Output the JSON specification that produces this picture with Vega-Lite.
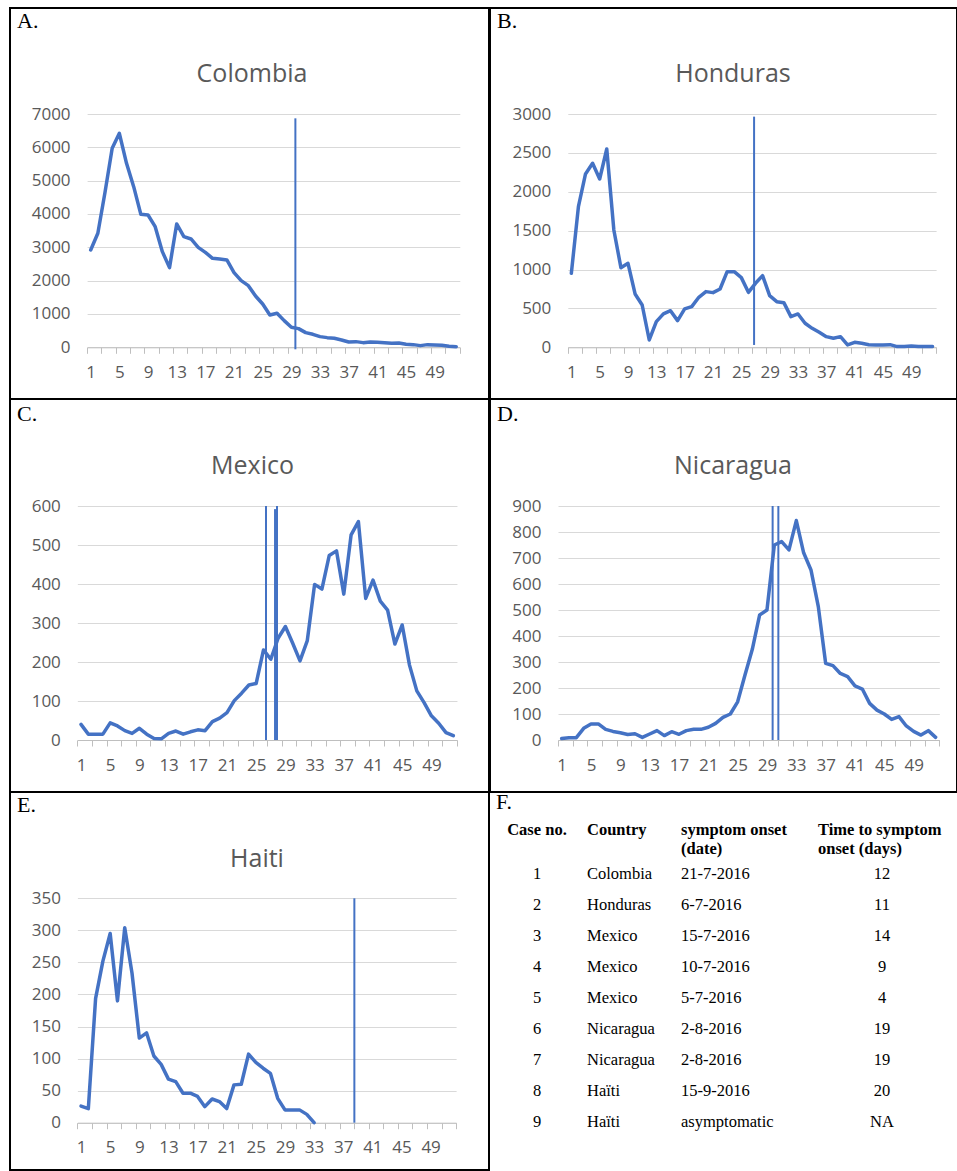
{
"$schema": "https://vega.github.io/schema/vega-lite/v6.json",
"padding": {"left": 9, "top": 7, "right": 0, "bottom": 0},
"background": "white",
"columns": 2,
"spacing": -2,
"bounds": "full",
"align": {"row": "none", "column": "each"},
"config": {"view": {"stroke": null}},
"datasets": {
"cases": [
{"country":"Colombia","week":1,"cases":2920},{"country":"Colombia","week":2,"cases":3420},{"country":"Colombia","week":3,"cases":4650},{"country":"Colombia","week":4,"cases":5970},{"country":"Colombia","week":5,"cases":6420},{"country":"Colombia","week":6,"cases":5520},{"country":"Colombia","week":7,"cases":4820},{"country":"Colombia","week":8,"cases":3990},{"country":"Colombia","week":9,"cases":3970},{"country":"Colombia","week":10,"cases":3620},{"country":"Colombia","week":11,"cases":2870},{"country":"Colombia","week":12,"cases":2390},{"country":"Colombia","week":13,"cases":3700},{"country":"Colombia","week":14,"cases":3320},{"country":"Colombia","week":15,"cases":3250},{"country":"Colombia","week":16,"cases":3000},{"country":"Colombia","week":17,"cases":2850},{"country":"Colombia","week":18,"cases":2670},{"country":"Colombia","week":19,"cases":2650},{"country":"Colombia","week":20,"cases":2620},{"country":"Colombia","week":21,"cases":2240},{"country":"Colombia","week":22,"cases":2000},{"country":"Colombia","week":23,"cases":1850},{"country":"Colombia","week":24,"cases":1540},{"country":"Colombia","week":25,"cases":1300},{"country":"Colombia","week":26,"cases":970},{"country":"Colombia","week":27,"cases":1020},{"country":"Colombia","week":28,"cases":800},{"country":"Colombia","week":29,"cases":600},{"country":"Colombia","week":30,"cases":560},{"country":"Colombia","week":31,"cases":440},{"country":"Colombia","week":32,"cases":390},{"country":"Colombia","week":33,"cases":320},{"country":"Colombia","week":34,"cases":290},{"country":"Colombia","week":35,"cases":270},{"country":"Colombia","week":36,"cases":220},{"country":"Colombia","week":37,"cases":160},{"country":"Colombia","week":38,"cases":170},{"country":"Colombia","week":39,"cases":140},{"country":"Colombia","week":40,"cases":160},{"country":"Colombia","week":41,"cases":150},{"country":"Colombia","week":42,"cases":140},{"country":"Colombia","week":43,"cases":120},{"country":"Colombia","week":44,"cases":130},{"country":"Colombia","week":45,"cases":90},{"country":"Colombia","week":46,"cases":80},{"country":"Colombia","week":47,"cases":50},{"country":"Colombia","week":48,"cases":80},{"country":"Colombia","week":49,"cases":70},{"country":"Colombia","week":50,"cases":60},{"country":"Colombia","week":51,"cases":30},{"country":"Colombia","week":52,"cases":20},
{"country":"Honduras","week":1,"cases":951},{"country":"Honduras","week":2,"cases":1809},{"country":"Honduras","week":3,"cases":2229},{"country":"Honduras","week":4,"cases":2366},{"country":"Honduras","week":5,"cases":2164},{"country":"Honduras","week":6,"cases":2550},{"country":"Honduras","week":7,"cases":1509},{"country":"Honduras","week":8,"cases":1024},{"country":"Honduras","week":9,"cases":1080},{"country":"Honduras","week":10,"cases":686},{"country":"Honduras","week":11,"cases":544},{"country":"Honduras","week":12,"cases":94},{"country":"Honduras","week":13,"cases":330},{"country":"Honduras","week":14,"cases":429},{"country":"Honduras","week":15,"cases":471},{"country":"Honduras","week":16,"cases":343},{"country":"Honduras","week":17,"cases":493},{"country":"Honduras","week":18,"cases":523},{"country":"Honduras","week":19,"cases":643},{"country":"Honduras","week":20,"cases":716},{"country":"Honduras","week":21,"cases":703},{"country":"Honduras","week":22,"cases":750},{"country":"Honduras","week":23,"cases":973},{"country":"Honduras","week":24,"cases":973},{"country":"Honduras","week":25,"cases":896},{"country":"Honduras","week":26,"cases":707},{"country":"Honduras","week":27,"cases":823},{"country":"Honduras","week":28,"cases":921},{"country":"Honduras","week":29,"cases":664},{"country":"Honduras","week":30,"cases":587},{"country":"Honduras","week":31,"cases":574},{"country":"Honduras","week":32,"cases":394},{"country":"Honduras","week":33,"cases":429},{"country":"Honduras","week":34,"cases":309},{"country":"Honduras","week":35,"cases":244},{"country":"Honduras","week":36,"cases":193},{"country":"Honduras","week":37,"cases":137},{"country":"Honduras","week":38,"cases":116},{"country":"Honduras","week":39,"cases":137},{"country":"Honduras","week":40,"cases":30},{"country":"Honduras","week":41,"cases":64},{"country":"Honduras","week":42,"cases":51},{"country":"Honduras","week":43,"cases":34},{"country":"Honduras","week":44,"cases":30},{"country":"Honduras","week":45,"cases":30},{"country":"Honduras","week":46,"cases":34},{"country":"Honduras","week":47,"cases":9},{"country":"Honduras","week":48,"cases":9},{"country":"Honduras","week":49,"cases":17},{"country":"Honduras","week":50,"cases":9},{"country":"Honduras","week":51,"cases":9},{"country":"Honduras","week":52,"cases":9},
{"country":"Mexico","week":1,"cases":40},{"country":"Mexico","week":2,"cases":15},{"country":"Mexico","week":3,"cases":15},{"country":"Mexico","week":4,"cases":15},{"country":"Mexico","week":5,"cases":44},{"country":"Mexico","week":6,"cases":36},{"country":"Mexico","week":7,"cases":24},{"country":"Mexico","week":8,"cases":17},{"country":"Mexico","week":9,"cases":30},{"country":"Mexico","week":10,"cases":15},{"country":"Mexico","week":11,"cases":4},{"country":"Mexico","week":12,"cases":3},{"country":"Mexico","week":13,"cases":17},{"country":"Mexico","week":14,"cases":23},{"country":"Mexico","week":15,"cases":15},{"country":"Mexico","week":16,"cases":21},{"country":"Mexico","week":17,"cases":26},{"country":"Mexico","week":18,"cases":24},{"country":"Mexico","week":19,"cases":47},{"country":"Mexico","week":20,"cases":56},{"country":"Mexico","week":21,"cases":70},{"country":"Mexico","week":22,"cases":101},{"country":"Mexico","week":23,"cases":120},{"country":"Mexico","week":24,"cases":141},{"country":"Mexico","week":25,"cases":145},{"country":"Mexico","week":26,"cases":231},{"country":"Mexico","week":27,"cases":207},{"country":"Mexico","week":28,"cases":261},{"country":"Mexico","week":29,"cases":291},{"country":"Mexico","week":30,"cases":248},{"country":"Mexico","week":31,"cases":203},{"country":"Mexico","week":32,"cases":255},{"country":"Mexico","week":33,"cases":399},{"country":"Mexico","week":34,"cases":387},{"country":"Mexico","week":35,"cases":473},{"country":"Mexico","week":36,"cases":485},{"country":"Mexico","week":37,"cases":374},{"country":"Mexico","week":38,"cases":526},{"country":"Mexico","week":39,"cases":560},{"country":"Mexico","week":40,"cases":363},{"country":"Mexico","week":41,"cases":410},{"country":"Mexico","week":42,"cases":356},{"country":"Mexico","week":43,"cases":333},{"country":"Mexico","week":44,"cases":246},{"country":"Mexico","week":45,"cases":295},{"country":"Mexico","week":46,"cases":192},{"country":"Mexico","week":47,"cases":126},{"country":"Mexico","week":48,"cases":96},{"country":"Mexico","week":49,"cases":62},{"country":"Mexico","week":50,"cases":43},{"country":"Mexico","week":51,"cases":19},{"country":"Mexico","week":52,"cases":11},
{"country":"Nicaragua","week":1,"cases":6},{"country":"Nicaragua","week":2,"cases":9},{"country":"Nicaragua","week":3,"cases":9},{"country":"Nicaragua","week":4,"cases":45},{"country":"Nicaragua","week":5,"cases":62},{"country":"Nicaragua","week":6,"cases":62},{"country":"Nicaragua","week":7,"cases":41},{"country":"Nicaragua","week":8,"cases":33},{"country":"Nicaragua","week":9,"cases":28},{"country":"Nicaragua","week":10,"cases":21},{"country":"Nicaragua","week":11,"cases":24},{"country":"Nicaragua","week":12,"cases":10},{"country":"Nicaragua","week":13,"cases":23},{"country":"Nicaragua","week":14,"cases":36},{"country":"Nicaragua","week":15,"cases":17},{"country":"Nicaragua","week":16,"cases":32},{"country":"Nicaragua","week":17,"cases":22},{"country":"Nicaragua","week":18,"cases":36},{"country":"Nicaragua","week":19,"cases":41},{"country":"Nicaragua","week":20,"cases":41},{"country":"Nicaragua","week":21,"cases":49},{"country":"Nicaragua","week":22,"cases":64},{"country":"Nicaragua","week":23,"cases":87},{"country":"Nicaragua","week":24,"cases":100},{"country":"Nicaragua","week":25,"cases":147},{"country":"Nicaragua","week":26,"cases":250},{"country":"Nicaragua","week":27,"cases":349},{"country":"Nicaragua","week":28,"cases":481},{"country":"Nicaragua","week":29,"cases":500},{"country":"Nicaragua","week":30,"cases":750},{"country":"Nicaragua","week":31,"cases":763},{"country":"Nicaragua","week":32,"cases":731},{"country":"Nicaragua","week":33,"cases":844},{"country":"Nicaragua","week":34,"cases":720},{"country":"Nicaragua","week":35,"cases":654},{"country":"Nicaragua","week":36,"cases":513},{"country":"Nicaragua","week":37,"cases":295},{"country":"Nicaragua","week":38,"cases":286},{"country":"Nicaragua","week":39,"cases":256},{"country":"Nicaragua","week":40,"cases":244},{"country":"Nicaragua","week":41,"cases":208},{"country":"Nicaragua","week":42,"cases":196},{"country":"Nicaragua","week":43,"cases":141},{"country":"Nicaragua","week":44,"cases":115},{"country":"Nicaragua","week":45,"cases":100},{"country":"Nicaragua","week":46,"cases":79},{"country":"Nicaragua","week":47,"cases":90},{"country":"Nicaragua","week":48,"cases":54},{"country":"Nicaragua","week":49,"cases":33},{"country":"Nicaragua","week":50,"cases":19},{"country":"Nicaragua","week":51,"cases":36},{"country":"Nicaragua","week":52,"cases":10},
{"country":"Haiti","week":1,"cases":26},{"country":"Haiti","week":2,"cases":22},{"country":"Haiti","week":3,"cases":194},{"country":"Haiti","week":4,"cases":252},{"country":"Haiti","week":5,"cases":295},{"country":"Haiti","week":6,"cases":190},{"country":"Haiti","week":7,"cases":304},{"country":"Haiti","week":8,"cases":233},{"country":"Haiti","week":9,"cases":132},{"country":"Haiti","week":10,"cases":140},{"country":"Haiti","week":11,"cases":104},{"country":"Haiti","week":12,"cases":91},{"country":"Haiti","week":13,"cases":68},{"country":"Haiti","week":14,"cases":64},{"country":"Haiti","week":15,"cases":46},{"country":"Haiti","week":16,"cases":46},{"country":"Haiti","week":17,"cases":41},{"country":"Haiti","week":18,"cases":25},{"country":"Haiti","week":19,"cases":37},{"country":"Haiti","week":20,"cases":33},{"country":"Haiti","week":21,"cases":22},{"country":"Haiti","week":22,"cases":59},{"country":"Haiti","week":23,"cases":60},{"country":"Haiti","week":24,"cases":107},{"country":"Haiti","week":25,"cases":94},{"country":"Haiti","week":26,"cases":85},{"country":"Haiti","week":27,"cases":77},{"country":"Haiti","week":28,"cases":38},{"country":"Haiti","week":29,"cases":20},{"country":"Haiti","week":30,"cases":20},{"country":"Haiti","week":31,"cases":20},{"country":"Haiti","week":32,"cases":13},{"country":"Haiti","week":33,"cases":0}
],
"markers": [
{"country":"Colombia","pos":29.56,"top":6870,"bottom":-60},
{"country":"Honduras","pos":26.8,"top":2966,"bottom":30},
{"country":"Mexico","pos":26.34,"top":600,"bottom":0},
{"country":"Mexico","pos":27.58,"top":592,"bottom":0},
{"country":"Mexico","pos":27.85,"top":600,"bottom":0},
{"country":"Nicaragua","pos":29.77,"top":900,"bottom":0},
{"country":"Nicaragua","pos":30.55,"top":900,"bottom":0},
{"country":"Haiti","pos":38.53,"top":350,"bottom":0}
],
"table": [
{"row":1,"case":"1","country":"Colombia","onset":"21-7-2016","days":"12"},
{"row":2,"case":"2","country":"Honduras","onset":"6-7-2016","days":"11"},
{"row":3,"case":"3","country":"Mexico","onset":"15-7-2016","days":"14"},
{"row":4,"case":"4","country":"Mexico","onset":"10-7-2016","days":"9"},
{"row":5,"case":"5","country":"Mexico","onset":"5-7-2016","days":"4"},
{"row":6,"case":"6","country":"Nicaragua","onset":"2-8-2016","days":"19"},
{"row":7,"case":"7","country":"Nicaragua","onset":"2-8-2016","days":"19"},
{"row":8,"case":"8","country":"Haïti","onset":"15-9-2016","days":"20"},
{"row":9,"case":"9","country":"Haïti","onset":"asymptomatic","days":"NA"}
]
},
"concat": [
{
"title": {"text": "A.", "anchor": "start", "offset": -26, "dx": 8, "font": "Liberation Serif", "fontSize": 22, "fontWeight": "normal", "color": "#000000"},
"vconcat": [{
"width": 479, "height": 391,
"view": {"stroke": "#000000", "strokeWidth": 2},
"title": {"text": "Colombia", "anchor": "middle", "frame": "group", "offset": -79, "dx": 2.5, "font": "Open Sans", "fontSize": 25, "fontWeight": "normal", "color": "#595959"},
"resolve": {"axis": {"x": "independent"}},
"layer": [
{"data": {"name": "cases"}, "transform": [{"filter": "datum.country === 'Colombia'"}],
"mark": {"type": "line", "color": "#4472C4", "strokeWidth": 3.5, "strokeJoin": "round", "strokeCap": "round"},
"encoding": {
"x": {"field": "week", "type": "quantitative", "title": null, "scale": {"domain": [0.5, 52.5], "range": [77.1, 449.8], "nice": false, "zero": false},
"axis": {"orient": "bottom", "offset": -51.7, "values": [1,5,9,13,17,21,25,29,33,37,41,45,49], "format": "d", "labelOverlap": false, "labelFlush": false, "grid": false, "domainColor": "#bfbfbf", "ticks": false, "labelColor": "#595959", "labelFont": "Open Sans", "labelFontSize": 17, "labelPadding": 17}},
"y": {"field": "cases", "type": "quantitative", "title": null, "scale": {"domain": [0, 7000], "range": [339.3, 106], "nice": false, "zero": false},
"axis": {"offset": -77.1, "values": [0,1000,2000,3000,4000,5000,6000,7000], "format": "d", "grid": true, "gridColor": "#d9d9d9", "domain": false, "ticks": false, "labelColor": "#595959", "labelFont": "Open Sans", "labelFontSize": 17, "labelPadding": 17}}
}},
{"data": {"name": "markers"}, "transform": [{"filter": "datum.country === 'Colombia'"}],
"mark": {"type": "rule", "color": "#4472C4", "strokeWidth": 2},
"encoding": {"x": {"field": "pos", "type": "quantitative", "title": null, "axis": {"orient": "bottom", "offset": -51.7, "values": [0.5,2.5,4.5,6.5,8.5,10.5,12.5,14.5,16.5,18.5,20.5,22.5,24.5,26.5,28.5,30.5,32.5,34.5,36.5,38.5,40.5,42.5,44.5,46.5,48.5,50.5,52.5], "labels": false, "domain": false, "grid": false, "ticks": true, "tickSize": 6, "tickColor": "#bfbfbf"}}, "y": {"field": "top", "type": "quantitative", "title": null}, "y2": {"field": "bottom"}}}
]
}]
},
{
"title": {"text": "B.", "anchor": "start", "offset": -26, "dx": 8, "font": "Liberation Serif", "fontSize": 22, "fontWeight": "normal", "color": "#000000"},
"vconcat": [{
"width": 467, "height": 391,
"view": {"stroke": "#000000", "strokeWidth": 2},
"title": {"text": "Honduras", "anchor": "middle", "frame": "group", "offset": -79, "dx": 9.5, "font": "Open Sans", "fontSize": 25, "fontWeight": "normal", "color": "#595959"},
"resolve": {"axis": {"x": "independent"}},
"layer": [
{"data": {"name": "cases"}, "transform": [{"filter": "datum.country === 'Honduras'"}],
"mark": {"type": "line", "color": "#4472C4", "strokeWidth": 3.5, "strokeJoin": "round", "strokeCap": "round"},
"encoding": {
"x": {"field": "week", "type": "quantitative", "title": null, "scale": {"domain": [0.5, 52.5], "range": [77.8, 446.1], "nice": false, "zero": false},
"axis": {"orient": "bottom", "offset": -51.7, "values": [1,5,9,13,17,21,25,29,33,37,41,45,49], "format": "d", "labelOverlap": false, "labelFlush": false, "grid": false, "domainColor": "#bfbfbf", "ticks": false, "labelColor": "#595959", "labelFont": "Open Sans", "labelFontSize": 17, "labelPadding": 17}},
"y": {"field": "cases", "type": "quantitative", "title": null, "scale": {"domain": [0, 3000], "range": [339.3, 106], "nice": false, "zero": false},
"axis": {"offset": -77.8, "values": [0,500,1000,1500,2000,2500,3000], "format": "d", "grid": true, "gridColor": "#d9d9d9", "domain": false, "ticks": false, "labelColor": "#595959", "labelFont": "Open Sans", "labelFontSize": 17, "labelPadding": 17}}
}},
{"data": {"name": "markers"}, "transform": [{"filter": "datum.country === 'Honduras'"}],
"mark": {"type": "rule", "color": "#4472C4", "strokeWidth": 2},
"encoding": {"x": {"field": "pos", "type": "quantitative", "title": null, "axis": {"orient": "bottom", "offset": -51.7, "values": [0.5,2.5,4.5,6.5,8.5,10.5,12.5,14.5,16.5,18.5,20.5,22.5,24.5,26.5,28.5,30.5,32.5,34.5,36.5,38.5,40.5,42.5,44.5,46.5,48.5,50.5,52.5], "labels": false, "domain": false, "grid": false, "ticks": true, "tickSize": 6, "tickColor": "#bfbfbf"}}, "y": {"field": "top", "type": "quantitative", "title": null}, "y2": {"field": "bottom"}}}
]
}]
},
{
"title": {"text": "C.", "anchor": "start", "offset": -28, "dx": 8, "font": "Liberation Serif", "fontSize": 22, "fontWeight": "normal", "color": "#000000"},
"vconcat": [{
"width": 479, "height": 393,
"view": {"stroke": "#000000", "strokeWidth": 2},
"title": {"text": "Mexico", "anchor": "middle", "frame": "group", "offset": -80, "dx": 3, "font": "Open Sans", "fontSize": 25, "fontWeight": "normal", "color": "#595959"},
"resolve": {"axis": {"x": "independent"}},
"layer": [
{"data": {"name": "cases"}, "transform": [{"filter": "datum.country === 'Mexico'"}],
"mark": {"type": "line", "color": "#4472C4", "strokeWidth": 3.5, "strokeJoin": "round", "strokeCap": "round"},
"encoding": {
"x": {"field": "week", "type": "quantitative", "title": null, "scale": {"domain": [0.5, 52.5], "range": [67.35, 446.95], "nice": false, "zero": false},
"axis": {"orient": "bottom", "offset": -52, "values": [1,5,9,13,17,21,25,29,33,37,41,45,49], "format": "d", "labelOverlap": false, "labelFlush": false, "grid": false, "domainColor": "#bfbfbf", "ticks": false, "labelColor": "#595959", "labelFont": "Open Sans", "labelFontSize": 17, "labelPadding": 17}},
"y": {"field": "cases", "type": "quantitative", "title": null, "scale": {"domain": [0, 600], "range": [341, 107], "nice": false, "zero": false},
"axis": {"offset": -67.35, "values": [0,100,200,300,400,500,600], "format": "d", "grid": true, "gridColor": "#d9d9d9", "domain": false, "ticks": false, "labelColor": "#595959", "labelFont": "Open Sans", "labelFontSize": 17, "labelPadding": 17}}
}},
{"data": {"name": "markers"}, "transform": [{"filter": "datum.country === 'Mexico'"}],
"mark": {"type": "rule", "color": "#4472C4", "strokeWidth": 2},
"encoding": {"x": {"field": "pos", "type": "quantitative", "title": null, "axis": {"orient": "bottom", "offset": -52, "values": [0.5,2.5,4.5,6.5,8.5,10.5,12.5,14.5,16.5,18.5,20.5,22.5,24.5,26.5,28.5,30.5,32.5,34.5,36.5,38.5,40.5,42.5,44.5,46.5,48.5,50.5,52.5], "labels": false, "domain": false, "grid": false, "ticks": true, "tickSize": 6, "tickColor": "#bfbfbf"}}, "y": {"field": "top", "type": "quantitative", "title": null}, "y2": {"field": "bottom"}}}
]
}]
},
{
"title": {"text": "D.", "anchor": "start", "offset": -28, "dx": 8, "font": "Liberation Serif", "fontSize": 22, "fontWeight": "normal", "color": "#000000"},
"vconcat": [{
"width": 467, "height": 393,
"view": {"stroke": "#000000", "strokeWidth": 2},
"title": {"text": "Nicaragua", "anchor": "middle", "frame": "group", "offset": -80, "dx": 9.5, "font": "Open Sans", "fontSize": 25, "fontWeight": "normal", "color": "#595959"},
"resolve": {"axis": {"x": "independent"}},
"layer": [
{"data": {"name": "cases"}, "transform": [{"filter": "datum.country === 'Nicaragua'"}],
"mark": {"type": "line", "color": "#4472C4", "strokeWidth": 3.5, "strokeJoin": "round", "strokeCap": "round"},
"encoding": {
"x": {"field": "week", "type": "quantitative", "title": null, "scale": {"domain": [0.5, 52.5], "range": [68, 449.3], "nice": false, "zero": false},
"axis": {"orient": "bottom", "offset": -52, "values": [1,5,9,13,17,21,25,29,33,37,41,45,49], "format": "d", "labelOverlap": false, "labelFlush": false, "grid": false, "domainColor": "#bfbfbf", "ticks": false, "labelColor": "#595959", "labelFont": "Open Sans", "labelFontSize": 17, "labelPadding": 17}},
"y": {"field": "cases", "type": "quantitative", "title": null, "scale": {"domain": [0, 900], "range": [341, 107], "nice": false, "zero": false},
"axis": {"offset": -68, "values": [0,100,200,300,400,500,600,700,800,900], "format": "d", "grid": true, "gridColor": "#d9d9d9", "domain": false, "ticks": false, "labelColor": "#595959", "labelFont": "Open Sans", "labelFontSize": 17, "labelPadding": 17}}
}},
{"data": {"name": "markers"}, "transform": [{"filter": "datum.country === 'Nicaragua'"}],
"mark": {"type": "rule", "color": "#4472C4", "strokeWidth": 2},
"encoding": {"x": {"field": "pos", "type": "quantitative", "title": null, "axis": {"orient": "bottom", "offset": -52, "values": [0.5,2.5,4.5,6.5,8.5,10.5,12.5,14.5,16.5,18.5,20.5,22.5,24.5,26.5,28.5,30.5,32.5,34.5,36.5,38.5,40.5,42.5,44.5,46.5,48.5,50.5,52.5], "labels": false, "domain": false, "grid": false, "ticks": true, "tickSize": 6, "tickColor": "#bfbfbf"}}, "y": {"field": "top", "type": "quantitative", "title": null}, "y2": {"field": "bottom"}}}
]
}]
},
{
"title": {"text": "E.", "anchor": "start", "offset": -26, "dx": 8, "font": "Liberation Serif", "fontSize": 22, "fontWeight": "normal", "color": "#000000"},
"vconcat": [{
"width": 479, "height": 378,
"view": {"stroke": "#000000", "strokeWidth": 2},
"title": {"text": "Haiti", "anchor": "middle", "frame": "group", "offset": -80, "dx": 7.5, "font": "Open Sans", "fontSize": 25, "fontWeight": "normal", "color": "#595959"},
"resolve": {"axis": {"x": "independent"}},
"layer": [
{"data": {"name": "cases"}, "transform": [{"filter": "datum.country === 'Haiti'"}],
"mark": {"type": "line", "color": "#4472C4", "strokeWidth": 3.5, "strokeJoin": "round", "strokeCap": "round"},
"encoding": {
"x": {"field": "week", "type": "quantitative", "title": null, "scale": {"domain": [0.5, 52.5], "range": [67.4, 446.1], "nice": false, "zero": false},
"axis": {"orient": "bottom", "offset": -47.3, "values": [1,5,9,13,17,21,25,29,33,37,41,45,49], "format": "d", "labelOverlap": false, "labelFlush": false, "grid": false, "domainColor": "#bfbfbf", "ticks": false, "labelColor": "#595959", "labelFont": "Open Sans", "labelFontSize": 17, "labelPadding": 17}},
"y": {"field": "cases", "type": "quantitative", "title": null, "scale": {"domain": [0, 350], "range": [330.7, 106.3], "nice": false, "zero": false},
"axis": {"offset": -67.4, "values": [0,50,100,150,200,250,300,350], "format": "d", "grid": true, "gridColor": "#d9d9d9", "domain": false, "ticks": false, "labelColor": "#595959", "labelFont": "Open Sans", "labelFontSize": 17, "labelPadding": 17}}
}},
{"data": {"name": "markers"}, "transform": [{"filter": "datum.country === 'Haiti'"}],
"mark": {"type": "rule", "color": "#4472C4", "strokeWidth": 2},
"encoding": {"x": {"field": "pos", "type": "quantitative", "title": null, "axis": {"orient": "bottom", "offset": -47.3, "values": [0.5,2.5,4.5,6.5,8.5,10.5,12.5,14.5,16.5,18.5,20.5,22.5,24.5,26.5,28.5,30.5,32.5,34.5,36.5,38.5,40.5,42.5,44.5,46.5,48.5,50.5,52.5], "labels": false, "domain": false, "grid": false, "ticks": true, "tickSize": 6, "tickColor": "#bfbfbf"}}, "y": {"field": "top", "type": "quantitative", "title": null}, "y2": {"field": "bottom"}}}
]
}]
},
{
"title": {"text": "F.", "anchor": "start", "offset": 8, "dx": 6, "font": "Liberation Serif", "fontSize": 22, "fontWeight": "normal", "color": "#000000"},
"spacing": 0,
"bounds": "flush",
"hconcat": [
{"width": 94, "height": {"step": 30.9}, "data": {"name": "table"},
"title": {"text": ["Case no.", ""], "anchor": "middle", "align": "center", "offset": 2, "lineHeight": 18.5, "font": "Liberation Serif", "fontSize": 16.5, "fontWeight": "bold", "color": "#000000"},
"mark": {"type": "text", "font": "Liberation Serif", "fontSize": 16.5, "align": "center", "color": "#000000"},
"encoding": {"y": {"field": "row", "type": "ordinal", "axis": null}, "text": {"field": "case", "type": "nominal"}}},
{"width": 6, "height": {"step": 30.9}, "data": {"name": "table"},
"title": {"text": ["Country", ""], "anchor": "middle", "align": "left", "offset": 2, "lineHeight": 18.5, "font": "Liberation Serif", "fontSize": 16.5, "fontWeight": "bold", "color": "#000000"},
"mark": {"type": "text", "font": "Liberation Serif", "fontSize": 16.5, "align": "left", "color": "#000000"},
"encoding": {"y": {"field": "row", "type": "ordinal", "axis": null}, "text": {"field": "country", "type": "nominal"}}},
{"width": 182, "height": {"step": 30.9}, "data": {"name": "table"},
"title": {"text": ["symptom onset", "(date)"], "anchor": "middle", "align": "left", "offset": 2, "lineHeight": 18.5, "font": "Liberation Serif", "fontSize": 16.5, "fontWeight": "bold", "color": "#000000"},
"mark": {"type": "text", "font": "Liberation Serif", "fontSize": 16.5, "align": "left", "color": "#000000"},
"encoding": {"y": {"field": "row", "type": "ordinal", "axis": null}, "text": {"field": "onset", "type": "nominal"}}},
{"width": 220, "height": {"step": 30.9}, "data": {"name": "table"},
"title": {"text": ["Time to symptom", "onset (days)"], "anchor": "middle", "align": "left", "dx": -64, "offset": 2, "lineHeight": 18.5, "font": "Liberation Serif", "fontSize": 16.5, "fontWeight": "bold", "color": "#000000"},
"mark": {"type": "text", "font": "Liberation Serif", "fontSize": 16.5, "align": "center", "color": "#000000"},
"encoding": {"y": {"field": "row", "type": "ordinal", "axis": null}, "text": {"field": "days", "type": "nominal"}}}
]
}
]
}
